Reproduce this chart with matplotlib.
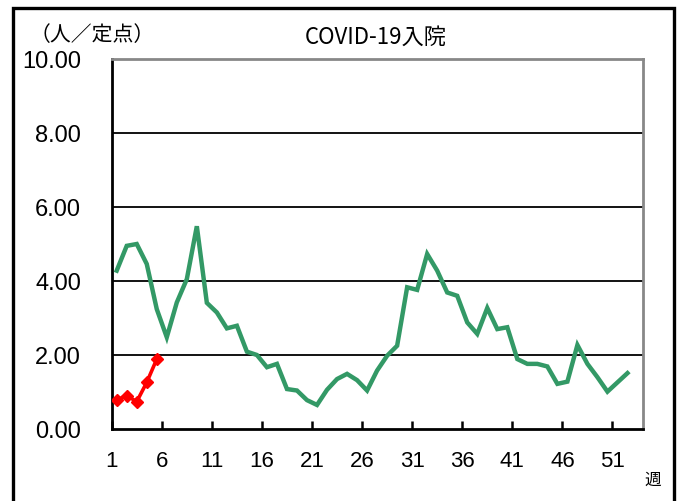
import matplotlib
matplotlib.use("Agg")
import matplotlib.pyplot as plt
from matplotlib.patches import Rectangle

weeks_prev = list(range(1, 53))
hosp_prev = [4.28, 4.95, 5.00, 4.46, 3.24, 2.48, 3.42, 4.05, 5.48, 3.41,
             3.15, 2.72, 2.79, 2.09, 2.00, 1.67, 1.76, 1.08, 1.04, 0.78,
             0.65, 1.06, 1.35, 1.49, 1.32, 1.04, 1.58, 1.98, 2.25, 3.83,
             3.76, 4.73, 4.28, 3.69, 3.60, 2.88, 2.57, 3.27, 2.70, 2.75,
             1.89, 1.76, 1.76, 1.69, 1.22, 1.28, 2.27, 1.76, 1.40, 1.01,
             1.26, 1.51]
weeks_cur = [1, 2, 3, 4, 5]
hosp_cur = [0.79, 0.90, 0.74, 1.26, 1.89]

week_labels = [1, 6, 11, 16, 21, 26, 31, 36, 41, 46, 51]
y_ticks = [0, 2, 4, 6, 8, 10]

num_font = ["Liberation Sans", "DejaVu Sans"]
jp_font = ["Noto Sans CJK JP", "DejaVu Sans"]

W, H = 686, 502
fig = plt.figure(figsize=(W / 100, H / 100), dpi=100)

# outer frame (open at the bottom edge of the picture)
fig.patches.append(Rectangle((12.5 / W, -0.05), (673.5 - 12.5) / W, 1.05 - 8.5 / H,
                             transform=fig.transFigure, fill=False,
                             edgecolor="black", linewidth=2.4))

left, right, top, bottom = 111.7, 642.5, 60, 430
ax = fig.add_axes([left / W, 1 - bottom / H, (right - left) / W, (bottom - top) / H])

for v in y_ticks[1:-1]:
    ax.axhline(v, color="black", linewidth=1.3, zorder=1)

ax.plot(weeks_prev, hosp_prev, color="#339966", linewidth=3.2, zorder=3,
        solid_joinstyle="miter")
ax.plot(weeks_cur, hosp_cur, color="#ff0000", linewidth=2.6, marker="D",
        markersize=6.5, zorder=4)

ax.set_xlim(0.5, 53.5)
ax.set_ylim(0, 10)

ax.set_yticks(y_ticks)
ax.set_yticklabels([f"{v:.2f}" for v in y_ticks], fontfamily=num_font, fontsize=17)
ax.tick_params(axis="y", length=0, pad=22)

ax.set_xticks([w - 0.5 for w in week_labels])
ax.set_xticklabels([str(w) for w in week_labels], fontfamily=num_font, fontsize=16)
ax.tick_params(axis="x", direction="in", length=6, width=1.8, color="black", pad=15)

ax.spines["left"].set_linewidth(2.0)
ax.spines["bottom"].set_linewidth(2.0)
ax.spines["top"].set_color("#888888")
ax.spines["right"].set_color("#888888")
ax.spines["top"].set_linewidth(2.0)
ax.spines["right"].set_linewidth(2.0)

fig.text(376 / W, 1 - 37 / H, "COVID-19入院", fontfamily=jp_font, fontsize=16,
         ha="center", va="center")
fig.text(92 / W, 1 - 35 / H, "（人／定点）", fontfamily=jp_font, fontsize=15,
         ha="center", va="center")
fig.text(653 / W, 1 - 480 / H, "週", fontfamily=jp_font, fontsize=12,
         ha="center", va="center")

fig.savefig("out.png", dpi=100)
